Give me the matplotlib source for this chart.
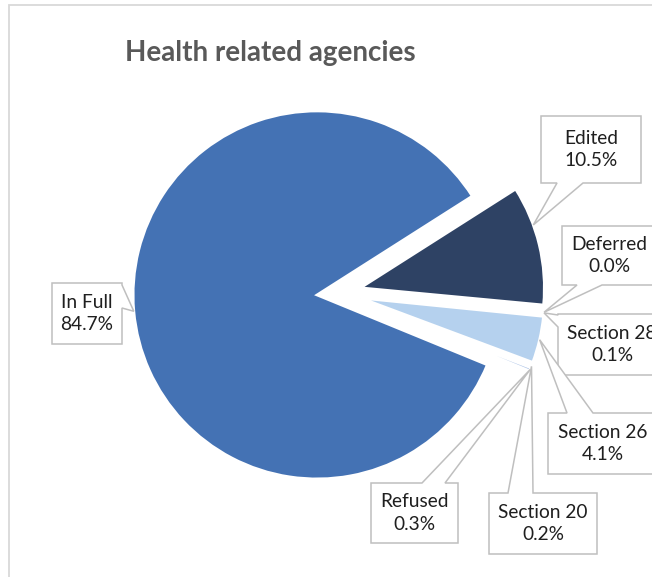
import math

import matplotlib

matplotlib.use("Agg")

import matplotlib.pyplot as plt
from matplotlib.patches import Polygon, Rectangle

W, H = 652, 577

title = "Health related agencies"
categories = ["In Full", "Edited", "Deferred", "Section 28", "Section 26", "Section 20", "Refused"]
shares = [84.7, 10.5, 0.0, 0.1, 4.1, 0.2, 0.3]
slice_colors = ["#4472B4", "#2E4264", "#5B8BD0", "#8FAADC", "#B5D1EE", "#7F9FD6", "#A9C1E6"]

# callout boxes in pixel space (left, top, right, bottom), the side the pointer
# leaves from, and where the pointer base sits along that side
callout_boxes = {
    "In Full": ((52, 283, 122, 344), "right", (285, 308)),
    "Edited": ((541, 116, 641, 183), "bottom", (557, 583)),
    "Deferred": ((562, 226, 656, 285), "bottom", (577, 602)),
    "Section 28": ((558, 314, 666, 375), "left", (315, 327)),
    "Section 26": ((548, 413, 658, 474), "top", (567, 593)),
    "Section 20": ((489, 493, 597, 554), "top", (508, 533)),
    "Refused": ((371, 483, 458, 543), "top", (422, 445)),
}
# where on the arc each pointer lands (0 = leading edge, 1 = trailing edge)
arc_position = {"Edited": 0.33}

PIE_CENTER = (339, H - 293)
PIE_RADIUS = 184
EXPLODE = 22
LABEL_FONT = ["Lato", "DejaVu Sans"]


def callout_outline(box, side, base, tip):
    l, t, r, b = box
    a0, a1 = base
    if side == "top":
        pts = [(l, t), (a0, t), tip, (a1, t), (r, t), (r, b), (l, b)]
    elif side == "bottom":
        pts = [(l, t), (r, t), (r, b), (a1, b), tip, (a0, b), (l, b)]
    elif side == "left":
        pts = [(l, t), (r, t), (r, b), (l, b), (l, a1), tip, (l, a0)]
    else:
        pts = [(l, t), (r, t), (r, a0), tip, (r, a1), (r, b), (l, b)]
    return [(x, H - y) for x, y in pts]


fig = plt.figure(figsize=(W / 100, H / 100), dpi=100)
ax = fig.add_axes([0, 0, 1, 1])

wedges, _ = ax.pie(
    shares,
    explode=[EXPLODE] * len(shares),
    colors=slice_colors,
    startangle=-22.3,
    counterclock=False,
    radius=PIE_RADIUS,
    center=PIE_CENTER,
    wedgeprops=dict(edgecolor="white", linewidth=2),
)
ax.set_xlim(0, W)
ax.set_ylim(0, H)
ax.set_aspect("equal")
ax.axis("off")

# chart area border (only the left and top edges fall inside the canvas)
ax.add_patch(Rectangle((8.5, -50), W + 100, H - 4.5 + 50, fill=False,
                       edgecolor="#D9D9D9", linewidth=1.3, zorder=1))

ax.text(270, H - 61, title, ha="center", va="baseline", fontsize=20,
        fontweight="bold", color="#595959", family=["Lato", "DejaVu Sans"])

for name, share, wedge in zip(categories, shares, wedges):
    frac = arc_position.get(name, 0.5)
    angle = math.radians(wedge.theta2 - frac * (wedge.theta2 - wedge.theta1))
    cx, cy = wedge.center
    tip_x = cx + wedge.r * math.cos(angle)
    tip_y = H - (cy + wedge.r * math.sin(angle))

    box, side, base = callout_boxes[name]
    outline = callout_outline(box, side, base, (tip_x, tip_y))
    ax.add_patch(Polygon(outline, closed=True, facecolor="white",
                         edgecolor="#BFBFBF", linewidth=1.1, zorder=3))
    l, t, r, b = box
    ax.text((l + r) / 2, H - (t + b) / 2, f"{name}\n{share:.1f}%",
            ha="center", va="center", multialignment="center",
            fontsize=13.8, color="#1F1F1F", linespacing=1.4,
            family=LABEL_FONT, zorder=4)

fig.savefig("out.png", dpi=100)
